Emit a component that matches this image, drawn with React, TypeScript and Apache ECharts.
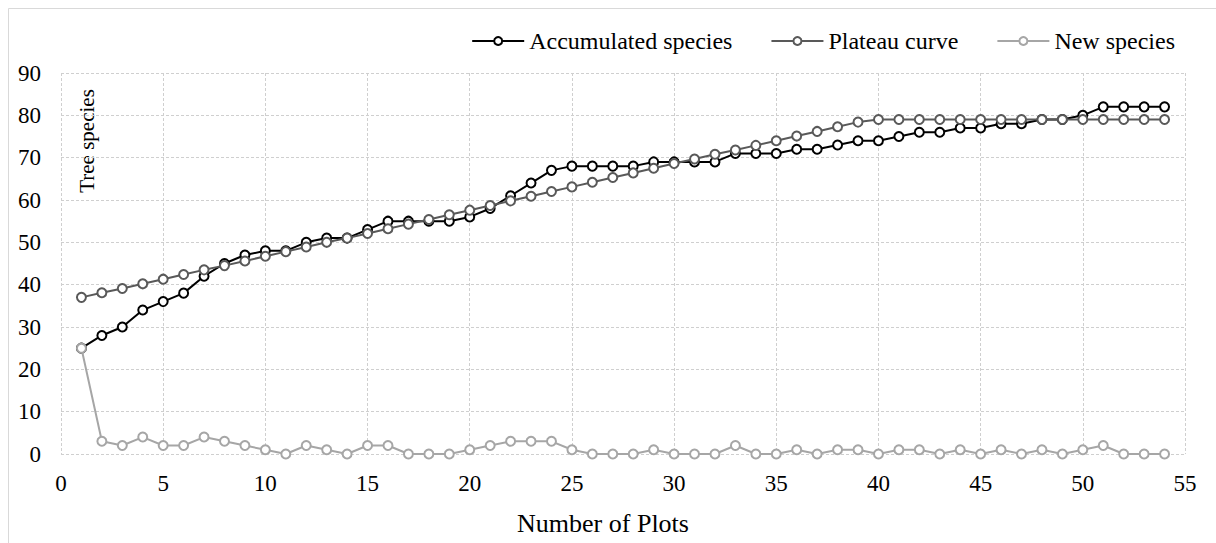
import React, { useEffect, useRef } from "react";
import * as echarts from "echarts";

const plotNumbers = [
  1, 2, 3, 4, 5, 6, 7, 8, 9, 10, 11, 12, 13, 14, 15, 16, 17, 18, 19, 20,
  21, 22, 23, 24, 25, 26, 27, 28, 29, 30, 31, 32, 33, 34, 35, 36, 37, 38, 39, 40,
  41, 42, 43, 44, 45, 46, 47, 48, 49, 50, 51, 52, 53, 54,
];

const accumulatedSpecies = [
  25, 28, 30, 34, 36, 38, 42, 45, 47, 48,
  48, 50, 51, 51, 53, 55, 55, 55, 55, 56,
  58, 61, 64, 67, 68, 68, 68, 68, 69, 69,
  69, 69, 71, 71, 71, 72, 72, 73, 74, 74,
  75, 76, 76, 77, 77, 78, 78, 79, 79, 80,
  82, 82, 82, 82,
];

const plateauCurve = [
  37.0, 38.1, 39.1, 40.2, 41.3, 42.4, 43.5, 44.5, 45.6, 46.7,
  47.8, 48.9, 50.0, 51.0, 52.1, 53.2, 54.3, 55.4, 56.5, 57.6,
  58.7, 59.8, 60.9, 62.0, 63.1, 64.2, 65.3, 66.4, 67.5, 68.6,
  69.7, 70.8, 71.8, 72.9, 74.0, 75.1, 76.2, 77.3, 78.4, 79,
  79, 79, 79, 79, 79, 79, 79, 79, 79, 79,
  79, 79, 79, 79,
];

const newSpecies = [
  25, 3, 2, 4, 2, 2, 4, 3, 2, 1,
  0, 2, 1, 0, 2, 2, 0, 0, 0, 1,
  2, 3, 3, 3, 1, 0, 0, 0, 1, 0,
  0, 0, 2, 0, 0, 1, 0, 1, 1, 0,
  1, 1, 0, 1, 0, 1, 0, 1, 0, 1,
  2, 0, 0, 0,
];

const seriesNames = ["Accumulated species", "Plateau curve", "New species"];
const seriesColors = ["#000000", "#595959", "#a6a6a6"];
const xTicks = { min: 0, max: 55, interval: 5 };
const yTicks = { min: 0, max: 90, interval: 10 };
const xTitle = "Number of Plots";
const yTitle = "Tree species";

const FONT = "Times New Roman";

export default function App() {
  const ref = useRef<HTMLDivElement>(null);

  useEffect(() => {
    if (!ref.current) return;
    const chart = echarts.init(ref.current, undefined, { renderer: "svg" });
    const values = [accumulatedSpecies, plateauCurve, newSpecies];
    const gridLine = { show: true, lineStyle: { color: "#cfcfcf", width: 1, type: [3, 2] as any } };

    chart.setOption({
      animation: false,
      backgroundColor: "#ffffff",
      textStyle: { fontFamily: FONT },
      grid: { left: 61, right: 31, top: 73, bottom: 89 },
      legend: {
        right: 36,
        top: 24,
        itemWidth: 52,
        itemHeight: 10,
        itemGap: 38,
        textStyle: { fontFamily: FONT, fontSize: 24, color: "#000" },
        data: seriesNames,
      },
      xAxis: {
        type: "value",
        min: xTicks.min,
        max: xTicks.max,
        interval: xTicks.interval,
        axisLine: { show: false },
        axisTick: { show: false },
        axisLabel: { fontFamily: FONT, fontSize: 23, color: "#000", margin: 18 },
        splitLine: gridLine,
      },
      yAxis: {
        type: "value",
        min: yTicks.min,
        max: yTicks.max,
        interval: yTicks.interval,
        axisLine: { show: false },
        axisTick: { show: false },
        axisLabel: { fontFamily: FONT, fontSize: 23, color: "#000", margin: 20 },
        splitLine: gridLine,
      },
      graphic: [
        { type: "line", shape: { x1: 8.5, y1: 8.5, x2: 1216, y2: 8.5 }, style: { stroke: "#d9d9d9", lineWidth: 1 } },
        { type: "line", shape: { x1: 8.5, y1: 8.5, x2: 8.5, y2: 543 }, style: { stroke: "#d9d9d9", lineWidth: 1 } },
        {
          type: "text",
          x: 87,
          y: 141,
          rotation: Math.PI / 2,
          style: { text: yTitle, fontFamily: FONT, fontSize: 21, fill: "#000", align: "center", verticalAlign: "middle" },
        },
        {
          type: "text",
          x: 603,
          y: 523,
          style: { text: xTitle, fontFamily: FONT, fontSize: 26, fill: "#000", align: "center", verticalAlign: "middle" },
        },
      ],
      series: seriesNames.map((name, i) => ({
        name,
        type: "line",
        data: plotNumbers.map((x, k) => [x, values[i][k]]),
        symbol: "circle",
        symbolSize: 9,
        showSymbol: true,
        color: seriesColors[i],
        lineStyle: { color: seriesColors[i], width: 2 },
        itemStyle: { color: "#ffffff", borderColor: seriesColors[i], borderWidth: 2 },
        z: 2 + i,
      })),
    });

    return () => chart.dispose();
  }, []);

  return (
    <div
      ref={ref}
      style={{ position: "fixed", left: 0, top: 0, width: 1216, height: 543 }}
    />
  );
}
